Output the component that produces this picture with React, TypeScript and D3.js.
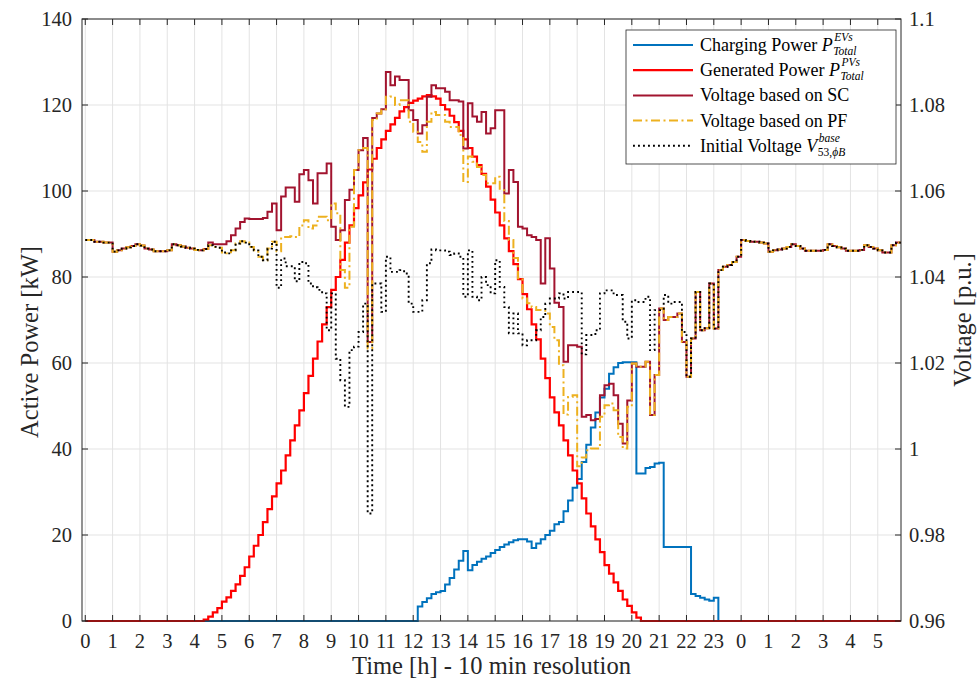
import React, { useEffect, useRef } from 'react';
import * as d3 from 'd3';

// x axis: 10-min samples over 30 h, hour labels wrap after midnight
const hourLabels = [
  '0', '1', '2', '3', '4', '5', '6', '7', '8', '9', '10', '11', '12', '13', '14', '15',
  '16', '17', '18', '19', '20', '21', '22', '23', '0', '1', '2', '3', '4', '5',
];
const powerTicks = [0, 20, 40, 60, 80, 100, 120, 140];
const voltTicks = [0.96, 0.98, 1, 1.02, 1.04, 1.06, 1.08, 1.1];

// generated PV power [kW], one value per 10 min (180 samples)
const pvPower = [
  0, 0, 0, 0, 0, 0, 0, 0, 0, 0, 0, 0, 0, 0, 0, 0, 0, 0, 0, 0, 0, 0, 0, 0, 0, 0,
  0.3, 1, 2, 3, 4.5, 5.5, 7, 8.5, 10.5, 12.5, 15, 17.5, 20, 23, 26, 29, 32, 35, 38.5, 42,
  45.5, 49, 53, 57, 61, 65, 69, 73, 77, 80, 84, 88, 92, 96, 99, 102, 105, 107.5, 110, 112,
  114, 115.5, 117, 118.5, 119.5, 120.5, 121, 121.5, 122, 122.3, 122, 121.5, 120, 119, 117.5, 116,
  114, 112, 110, 108, 106, 104, 101, 98, 95, 92, 89, 86, 83, 79.5, 76, 72.5,
  69, 65.5, 61, 56.5, 52, 48.5, 45.5, 42, 38.5, 35, 32, 28.5, 25, 22, 19, 16,
  13, 11, 9, 7, 5, 3.5, 2, 0.8,
  0, 0, 0, 0, 0, 0, 0, 0, 0, 0, 0, 0, 0, 0, 0, 0, 0, 0, 0, 0, 0, 0, 0, 0, 0, 0, 0, 0, 0,
  0, 0, 0, 0, 0, 0, 0, 0, 0, 0, 0, 0, 0, 0, 0, 0, 0, 0, 0, 0, 0, 0, 0, 0, 0, 0, 0, 0, 0,
];

// EV charging power [kW]
const evPower = [
  0, 0, 0, 0, 0, 0, 0, 0, 0, 0, 0, 0, 0, 0, 0, 0, 0, 0, 0, 0, 0, 0, 0, 0, 0, 0, 0, 0, 0, 0,
  0, 0, 0, 0, 0, 0, 0, 0, 0, 0, 0, 0, 0, 0, 0, 0, 0, 0, 0, 0, 0, 0, 0, 0, 0, 0, 0, 0, 0, 0,
  0, 0, 0, 0, 0, 0, 0, 0, 0, 0, 0, 0, 0,
  3.4, 4.4, 5.3, 6.3, 6.7, 7, 8.5, 10, 12, 14, 16.3, 11.8, 13, 13.8, 14.5, 15, 15.8,
  16.5, 17.2, 17.8, 18.3, 18.8, 19, 19, 18.5, 17, 18, 19, 20, 21, 22.5, 23, 25.5, 28, 31, 33,
  37, 41, 45, 48.5, 52, 54, 57.5, 59, 60, 60.2, 60.2, 60.2, 34.3, 34.3, 35.6, 35.8, 36.6, 36.8,
  17.2, 17.2, 17.2, 17.2, 17.2, 17.2, 6.3, 5.8, 5.4, 5, 4.7, 5.4,
  0, 0, 0, 0, 0, 0, 0, 0, 0, 0, 0, 0, 0, 0, 0, 0, 0, 0, 0, 0, 0,
  0, 0, 0, 0, 0, 0, 0, 0, 0, 0, 0, 0, 0, 0, 0, 0, 0, 0, 0, 0,
];

// voltage [p.u.] where all three cases coincide (night)
const vNightStart = [
  1.0486, 1.0486, 1.0482, 1.0482, 1.048, 1.048, 1.0459, 1.0462, 1.0466, 1.0469, 1.0472, 1.0476,
  1.0473, 1.0466, 1.0464, 1.046, 1.046, 1.046, 1.0462, 1.0476, 1.0474, 1.0471, 1.0468, 1.0466,
  1.0463, 1.0462, 1.0465,
];
const vNightEnd = [
  1.0486, 1.0484, 1.0482, 1.0482, 1.048, 1.0478, 1.0459, 1.0462, 1.0464, 1.0466, 1.047, 1.0476,
  1.0472, 1.0466, 1.0461, 1.0461, 1.0461, 1.0461, 1.0463, 1.0476, 1.0472, 1.0469, 1.0466, 1.0461,
  1.0461, 1.0461, 1.0463, 1.0474, 1.047, 1.0466, 1.0462, 1.0457, 1.0457, 1.0474, 1.048, 1.0482,
];

// voltage based on SC, 4:30 to 24:00
const scDay = [
  1.048, 1.0476, 1.0476, 1.0476, 1.0483, 1.0497, 1.0513, 1.0528, 1.0536, 1.0535, 1.0535, 1.0535,
  1.0537, 1.0552, 1.0571, 1.0509, 1.0587, 1.0608, 1.0608, 1.0575, 1.0639, 1.0649, 1.0625, 1.0571,
  1.0641, 1.0641, 1.0664, 1.0517, 1.0486, 1.0509, 1.0579, 1.0603, 1.0649, 1.0695, 1.0723, 1.0249,
  1.077, 1.078, 1.079, 1.0877, 1.0846, 1.0866, 1.0858, 1.0858, 1.0788, 1.0765, 1.0734, 1.0753,
  1.0819, 1.0846, 1.0839, 1.0839, 1.0831, 1.0811, 1.0811, 1.0808, 1.0699, 1.0804, 1.0773, 1.0761,
  1.0784, 1.0734, 1.0746, 1.0788, 1.0788, 1.0594, 1.0649, 1.0621, 1.0517, 1.0513, 1.0497, 1.0493,
  1.0486, 1.0385, 1.049, 1.042, 1.034, 1.033, 1.0203, 1.0241, 1.0241, 1.0238, 1.0075, 1.0079,
  1.0067, 1.007, 1.0125, 1.0148, 1.0152, 1.0125, 1.0059, 1.0013, 1.0113, 1.0199, 1.0191, 1.0191,
  1.0203, 1.0079, 1.0172, 1.0327, 1.03, 1.0307, 1.0307, 1.0315, 1.0249, 1.0168, 1.0257, 1.0365,
  1.0276, 1.0281, 1.0385, 1.028, 1.0416, 1.0424, 1.0428, 1.0435, 1.0447,
];

// voltage based on PF, 4:30 to 20:00 (then equal to SC)
const pfDay = [
  1.0474, 1.047, 1.0468, 1.0457, 1.0455, 1.0462, 1.0478, 1.0483, 1.048, 1.047, 1.0462, 1.0447,
  1.0439, 1.0466, 1.0482, 1.046, 1.0493, 1.0493, 1.0495, 1.0493, 1.052, 1.0532, 1.0513, 1.052,
  1.054, 1.054, 1.0532, 1.0571, 1.0548, 1.0416, 1.0375, 1.0517, 1.0649, 1.0695, 1.07, 1.0234,
  1.0765, 1.078, 1.079, 1.0819, 1.082, 1.08, 1.0811, 1.0811, 1.0761, 1.0738, 1.0714, 1.0691,
  1.0761, 1.0784, 1.0777, 1.0777, 1.0761, 1.0749, 1.0749, 1.073, 1.0621, 1.068, 1.0668, 1.0656,
  1.0637, 1.0618, 1.0618, 1.0633, 1.0602, 1.053, 1.0486, 1.0444, 1.0397, 1.035, 1.0339, 1.033,
  1.0323, 1.0323, 1.0315, 1.0284, 1.0253, 1.0195, 1.008, 1.0121, 1.0125, 0.996, 0.998, 0.9997,
  1.0001, 1.0001, 1.0075, 1.0102, 1.0106, 1.009, 1.0028, 1.0001, 1.0098,
];

// initial voltage V53 phase B, 4:30 to 22:00 (then equal to SC)
const initDay = [
  1.0474, 1.047, 1.0468, 1.0457, 1.0455, 1.0462, 1.0478, 1.0483, 1.048, 1.047, 1.0462, 1.0447,
  1.0439, 1.0466, 1.0482, 1.0375, 1.0443, 1.0425, 1.0425, 1.039, 1.0435, 1.0432, 1.0385, 1.0376,
  1.037, 1.0362, 1.0276, 1.0362, 1.021, 1.016, 1.0098, 1.023, 1.0238, 1.0272, 1.0338, 0.985,
  1.0385, 1.0385, 1.0319, 1.0447, 1.0412, 1.0412, 1.0416, 1.0408, 1.0338, 1.0319, 1.0319, 1.0346,
  1.0432, 1.0464, 1.0462, 1.0462, 1.0459, 1.0451, 1.0455, 1.0447, 1.0354, 1.0462, 1.0354, 1.0346,
  1.04, 1.0381, 1.0362, 1.0439, 1.0377, 1.033, 1.0269, 1.0315, 1.0269, 1.0241, 1.0253, 1.0253,
  1.0276, 1.0307, 1.0338, 1.035, 1.035, 1.0362, 1.035, 1.0365, 1.0365, 1.0365, 1.022, 1.0265,
  1.0265, 1.0276, 1.0362, 1.0369, 1.0369, 1.0358, 1.0358, 1.0296, 1.0257, 1.0346, 1.0342, 1.0342,
  1.0354, 1.023, 1.0323, 1.0323, 1.0358, 1.0338, 1.0342, 1.0342, 1.0272,
];

const vSC = [...vNightStart, ...scDay, ...vNightEnd];
const vPF = [...vNightStart, ...pfDay, ...scDay.slice(pfDay.length), ...vNightEnd];
const vInit = [...vNightStart, ...initDay, ...scDay.slice(initDay.length), ...vNightEnd];

const FONT = '"Liberation Serif", "Times New Roman", serif';

export default function App() {
  const ref = useRef<SVGSVGElement>(null);

  useEffect(() => {
    const svg = d3.select(ref.current);
    svg.selectAll('*').remove();

    const L = 82, R = 901, T = 19, B = 621;
    const x = d3.scaleLinear([-0.12, 29.85], [L, R]);
    const yP = d3.scaleLinear([0, 140], [B, T]);
    const yV = d3.scaleLinear([0.96, 1.1], [B, T]);

    svg.append('rect').attr('width', 980).attr('height', 683).attr('fill', '#fff');

    // grid
    const grid = svg.append('g').attr('stroke', '#e3e3e3').attr('stroke-width', 1);
    hourLabels.forEach((_, h) => {
      grid.append('line').attr('x1', x(h)).attr('x2', x(h)).attr('y1', T).attr('y2', B);
    });
    powerTicks.forEach(v => {
      grid.append('line').attr('x1', L).attr('x2', R).attr('y1', yP(v)).attr('y2', yP(v));
    });

    svg.append('clipPath').attr('id', 'plot-clip')
      .append('rect').attr('x', L).attr('y', T - 2).attr('width', R - L).attr('height', B - T + 4);

    const plot = svg.append('g').attr('clip-path', 'url(#plot-clip)').attr('fill', 'none');
    const stairs = (vals: number[], y: d3.ScaleLinear<number, number>) =>
      d3.line<number>().x((_, k) => x(k / 6)).y(d => y(d)).curve(d3.curveStepAfter)(vals);

    plot.append('path').attr('d', stairs(evPower, yP)).attr('stroke', '#0072BD').attr('stroke-width', 2);
    plot.append('path').attr('d', stairs(pvPower, yP)).attr('stroke', '#FF0000').attr('stroke-width', 2.2);
    plot.append('path').attr('d', stairs(vSC, yV)).attr('stroke', '#A2142F').attr('stroke-width', 2);
    plot.append('path').attr('d', stairs(vPF, yV)).attr('stroke', '#EDB120').attr('stroke-width', 2)
      .attr('stroke-dasharray', '9,3.5,2,3.5');
    plot.append('path').attr('d', stairs(vInit, yV)).attr('stroke', '#000').attr('stroke-width', 1.9)
      .attr('stroke-dasharray', '1.9,3.1');

    // box and ticks
    const ax = svg.append('g').attr('stroke', '#262626').attr('stroke-width', 1);
    ax.append('rect').attr('x', L).attr('y', T).attr('width', R - L).attr('height', B - T).attr('fill', 'none');
    hourLabels.forEach((_, h) => {
      ax.append('line').attr('x1', x(h)).attr('x2', x(h)).attr('y1', B).attr('y2', B - 6);
      ax.append('line').attr('x1', x(h)).attr('x2', x(h)).attr('y1', T).attr('y2', T + 6);
    });
    powerTicks.forEach(v => {
      ax.append('line').attr('x1', L).attr('x2', L + 6).attr('y1', yP(v)).attr('y2', yP(v));
    });
    voltTicks.forEach(v => {
      ax.append('line').attr('x1', R).attr('x2', R - 6).attr('y1', yV(v)).attr('y2', yV(v));
    });

    const labels = svg.append('g').attr('font-family', FONT).attr('fill', '#262626');
    hourLabels.forEach((lab, h) => {
      labels.append('text').attr('x', x(h)).attr('y', 648).attr('text-anchor', 'middle')
        .attr('font-size', 20.5).text(lab);
    });
    powerTicks.forEach(v => {
      labels.append('text').attr('x', 72).attr('y', yP(v) + 7).attr('text-anchor', 'end')
        .attr('font-size', 20.5).text(String(v));
    });
    voltTicks.forEach(v => {
      labels.append('text').attr('x', 909).attr('y', yV(v) + 7).attr('font-size', 20.5)
        .text(d3.format('~g')(v));
    });
    labels.append('text').attr('x', (L + R) / 2).attr('y', 674).attr('text-anchor', 'middle')
      .attr('font-size', 24.5).text('Time [h] - 10 min resolution');
    labels.append('text').attr('transform', 'translate(38,342) rotate(-90)')
      .attr('text-anchor', 'middle').attr('font-size', 24.5).text('Active Power [kW]');
    labels.append('text').attr('transform', `translate(971,${(T + B) / 2}) rotate(-90)`)
      .attr('text-anchor', 'middle').attr('font-size', 24.5).text('Voltage [p.u.]');

    // legend
    const legendItems = [
      { color: '#0072BD', dash: null, w: 2, text: 'Charging Power ', sym: 'P', sup: 'EVs', sub: [['Total', true]] },
      { color: '#FF0000', dash: null, w: 2.2, text: 'Generated Power ', sym: 'P', sup: 'PVs', sub: [['Total', true]] },
      { color: '#A2142F', dash: null, w: 2, text: 'Voltage based on SC', sym: '', sup: '', sub: [] },
      { color: '#EDB120', dash: '9,3.5,2,3.5', w: 2, text: 'Voltage based on PF', sym: '', sup: '', sub: [] },
      { color: '#000', dash: '1.9,3.1', w: 1.9, text: 'Initial Voltage ', sym: 'V', sup: 'base', sub: [['53,', false], ['ϕB', true]] },
    ];
    const lg = svg.append('g').attr('font-family', FONT);
    lg.append('rect').attr('x', 626).attr('y', 30).attr('width', 270).attr('height', 134)
      .attr('fill', '#fff').attr('stroke', '#262626').attr('stroke-width', 0.8);
    legendItems.forEach((it, i) => {
      const cy = 45 + i * 25.2;
      const ln = lg.append('line').attr('x1', 633).attr('x2', 693).attr('y1', cy).attr('y2', cy)
        .attr('stroke', it.color).attr('stroke-width', it.w);
      if (it.dash) ln.attr('stroke-dasharray', it.dash);
      const txt = lg.append('text').attr('x', 700).attr('y', cy + 6).attr('font-size', 18).attr('fill', '#000');
      txt.append('tspan').text(it.text);
      if (it.sym) {
        txt.append('tspan').attr('font-style', 'italic').text(it.sym);
        const w = (txt.node() as SVGTextElement).getComputedTextLength();
        const sx = 700 + w + 1.5;
        lg.append('text').attr('x', sx).attr('y', cy - 4).attr('font-size', 11.5)
          .attr('font-style', 'italic').text(it.sup);
        const sub = lg.append('text').attr('x', sx - 1).attr('y', cy + 10).attr('font-size', 11.5);
        it.sub.forEach(([t, italic]) => {
          sub.append('tspan').attr('font-style', italic ? 'italic' : 'normal').text(t as string);
        });
      }
    });
  }, []);

  return (
    <div style={{ position: 'absolute', left: 0, top: 0 }}>
      <svg ref={ref} width={980} height={683} />
    </div>
  );
}
